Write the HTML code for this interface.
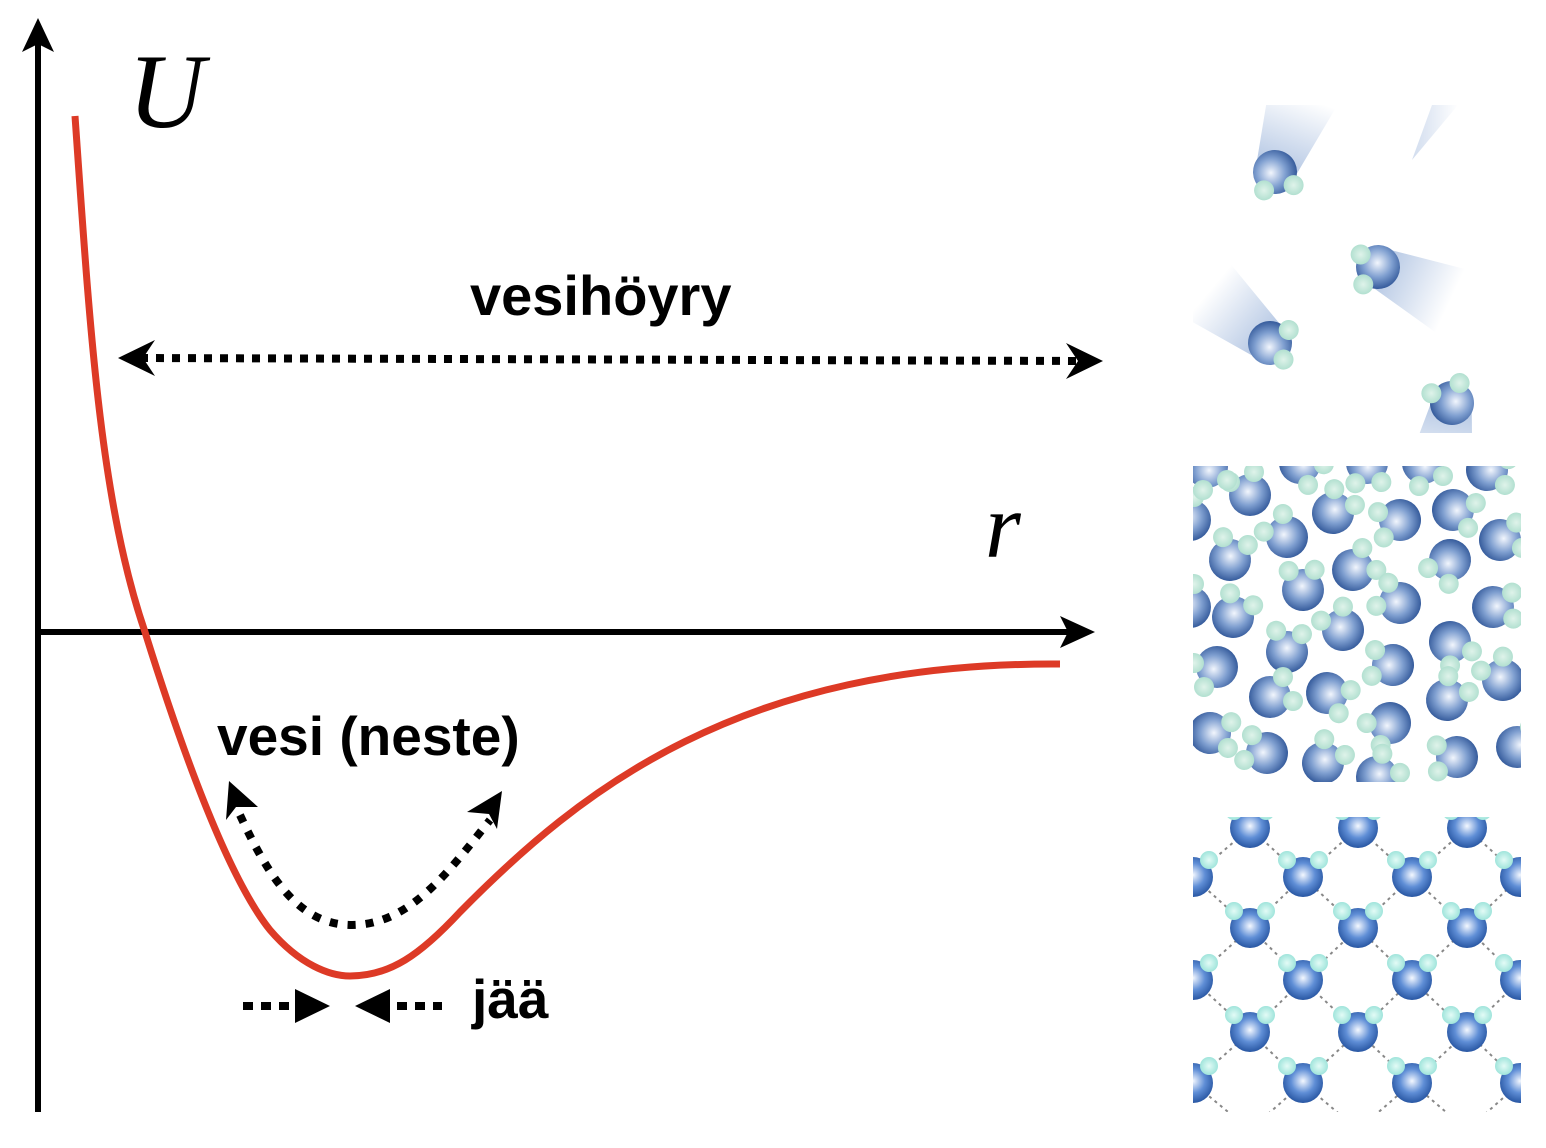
<!DOCTYPE html>
<html><head><meta charset="utf-8"><style>
html,body{margin:0;padding:0;background:#fff}
svg{display:block}
text{font-family:"Liberation Sans",sans-serif;font-weight:bold;fill:#000}
</style></head><body>
<svg width="1546" height="1148" viewBox="0 0 1546 1148" xmlns="http://www.w3.org/2000/svg">
<defs>
<radialGradient id="o" cx="0.45" cy="0.42" r="0.6">
<stop offset="0" stop-color="#f2f6fd"/><stop offset="0.55" stop-color="#7f9fd0"/><stop offset="1" stop-color="#33599a"/></radialGradient>
<radialGradient id="ob" cx="0.5" cy="0.45" r="0.6">
<stop offset="0" stop-color="#f4f8ff"/><stop offset="0.5" stop-color="#5f8ed6"/><stop offset="1" stop-color="#1d4b98"/></radialGradient>
<radialGradient id="h" cx="0.5" cy="0.5" r="0.6">
<stop offset="0" stop-color="#dff3ea"/><stop offset="1" stop-color="#a9dccb"/></radialGradient>
<radialGradient id="hi" cx="0.5" cy="0.5" r="0.6">
<stop offset="0" stop-color="#e3fbf6"/><stop offset="1" stop-color="#92e0d6"/></radialGradient>
<linearGradient id="tr" x1="0" y1="0" x2="1" y2="0"><stop offset="0" stop-color="#7f9fd0" stop-opacity="0.6"/><stop offset="1" stop-color="#7f9fd0" stop-opacity="0"/></linearGradient>
<g id="m"><circle r="21" fill="url(#o)"/><circle cx="-20" cy="-13" r="10" fill="url(#h)"/><circle cx="4" cy="-23" r="10" fill="url(#h)"/></g>
<g id="mv"><path d="M0,-20 L80,-35 L80,35 L0,20Z" fill="url(#tr)"/><circle r="22" fill="url(#o)"/><circle cx="-21" cy="-4" r="10" fill="url(#h)"/><circle cx="-6" cy="22" r="10" fill="url(#h)"/></g>
<g id="ic"><circle r="20" fill="url(#ob)"/><circle cx="-16" cy="-17" r="9" fill="url(#hi)"/><circle cx="16" cy="-17" r="9" fill="url(#hi)"/></g>
<clipPath id="c1"><rect x="1193" y="105" width="317" height="328"/></clipPath>
<clipPath id="c2"><rect x="1193" y="466" width="328" height="316"/></clipPath>
<clipPath id="c3"><rect x="1193" y="817" width="328" height="295"/></clipPath>
</defs>

<line x1="38" y1="1112" x2="38" y2="40" stroke="#000" stroke-width="6"/>
<polygon points="38,18 22,52 38,44 54,52" fill="#000"/>
<line x1="38" y1="632" x2="1075" y2="632" stroke="#000" stroke-width="6"/>
<polygon points="1095,632 1060,616 1068,632 1060,648" fill="#000"/>

<text x="128" y="127" font-style="italic" font-size="106" style="font-family:'Liberation Serif',serif;font-weight:normal">U</text>
<text x="985" y="557" font-style="italic" font-size="92" style="font-family:'Liberation Serif',serif;font-weight:normal">r</text>

<path d="M75,116 C90,330 100,500 145,632 C185,760 230,880 270,930 C300,965 330,976 350,976 C390,976 420,955 460,912 C580,790 740,662 1060,664" fill="none" stroke="#dd3a26" stroke-width="7"/>

<text x="470" y="315" font-size="56">vesihöyry</text>
<line x1="140" y1="358" x2="1080" y2="361" stroke="#000" stroke-width="8" stroke-dasharray="8,8"/>
<polygon points="118,358 155,340 143,358 155,376" fill="#000"/>
<polygon points="1103,361 1066,343 1078,361 1066,379" fill="#000"/>

<text x="217" y="755" font-size="55">vesi (neste)</text>
<path d="M240,815 C270,880 300,925 352,925 C410,925 450,870 490,820" fill="none" stroke="#000" stroke-width="8" stroke-dasharray="8,10"/>
<polygon points="229,781 226,820 236,807 258,807" fill="#000"/>
<polygon points="502,791 497,829 489,814 467,812" fill="#000"/>

<line x1="243" y1="1006" x2="290" y2="1006" stroke="#000" stroke-width="8" stroke-dasharray="10,8"/>
<polygon points="295,989 330,1006 295,1023" fill="#000"/>
<polygon points="390,989 355,1006 390,1023" fill="#000"/>
<line x1="397" y1="1006" x2="442" y2="1006" stroke="#000" stroke-width="8" stroke-dasharray="10,8"/>
<text x="472" y="1018" font-size="55">jää</text>

<g clip-path="url(#c1)">
<use href="#mv" transform="translate(1275,172) rotate(-70)"/>
<use href="#mv" transform="translate(1378,267) rotate(25)"/>
<use href="#mv" transform="translate(1270,343) rotate(-140)"/>
<use href="#mv" transform="translate(1452,403) rotate(100)"/>
<path d="M1412,160 L1432,105 L1458,105Z" fill="url(#tr)" opacity="0.6"/>
</g>

<g clip-path="url(#c2)">
<use href="#m" transform="translate(1250,495) rotate(0)"/>
<use href="#m" transform="translate(1333,513) rotate(60)"/>
<use href="#m" transform="translate(1400,520) rotate(-80)"/>
<use href="#m" transform="translate(1453,510) rotate(130)"/>
<use href="#m" transform="translate(1500,540) rotate(100)"/>
<use href="#m" transform="translate(1287,537) rotate(-20)"/>
<use href="#m" transform="translate(1230,560) rotate(40)"/>
<use href="#m" transform="translate(1353,570) rotate(80)"/>
<use href="#m" transform="translate(1450,560) rotate(-120)"/>
<use href="#m" transform="translate(1303,590) rotate(20)"/>
<use href="#m" transform="translate(1400,603) rotate(-40)"/>
<use href="#m" transform="translate(1493,607) rotate(110)"/>
<use href="#m" transform="translate(1233,617) rotate(50)"/>
<use href="#m" transform="translate(1343,630) rotate(-10)"/>
<use href="#m" transform="translate(1287,652) rotate(30)"/>
<use href="#m" transform="translate(1393,665) rotate(-60)"/>
<use href="#m" transform="translate(1450,642) rotate(170)"/>
<use href="#m" transform="translate(1217,667) rotate(-90)"/>
<use href="#m" transform="translate(1503,680) rotate(-10)"/>
<use href="#m" transform="translate(1270,697) rotate(90)"/>
<use href="#m" transform="translate(1327,693) rotate(140)"/>
<use href="#m" transform="translate(1447,700) rotate(60)"/>
<use href="#m" transform="translate(1390,723) rotate(-100)"/>
<use href="#m" transform="translate(1210,733) rotate(120)"/>
<use href="#m" transform="translate(1267,753) rotate(-50)"/>
<use href="#m" transform="translate(1323,763) rotate(60)"/>
<use href="#m" transform="translate(1457,757) rotate(-70)"/>
<use href="#m" transform="translate(1190,607) rotate(0)"/>
<use href="#m" transform="translate(1190,520) rotate(0)"/>
<use href="#m" transform="translate(1377,777) rotate(70)"/>
<use href="#m" transform="translate(1207,467) rotate(180)"/>
<use href="#m" transform="translate(1300,463) rotate(150)"/>
<use href="#m" transform="translate(1367,463) rotate(200)"/>
<use href="#m" transform="translate(1423,463) rotate(180)"/>
<use href="#m" transform="translate(1487,470) rotate(120)"/>
<use href="#m" transform="translate(1517,747) rotate(90)"/>
</g>

<g clip-path="url(#c3)">
<g stroke="#888" stroke-width="2" stroke-dasharray="3,4" fill="none">
<path d="M1193,877 L1250,828 L1303,877 L1358,828 L1412,877 L1467,828 L1520,877"/>
<path d="M1193,877 L1250,928 L1303,877 L1358,928 L1412,877 L1467,928 L1520,877"/>
<path d="M1193,980 L1250,928 L1303,980 L1358,928 L1412,980 L1467,928 L1520,980"/>
<path d="M1193,980 L1250,1032 L1303,980 L1358,1032 L1412,980 L1467,1032 L1520,980"/>
<path d="M1193,1083 L1250,1032 L1303,1083 L1358,1032 L1412,1083 L1467,1032 L1520,1083"/>
<path d="M1193,1083 L1250,1130 L1303,1083 L1358,1130 L1412,1083 L1467,1130 L1520,1083"/>
</g>
<use href="#ic" transform="translate(1250,828)"/><use href="#ic" transform="translate(1358,828)"/><use href="#ic" transform="translate(1467,828)"/>
<use href="#ic" transform="translate(1193,877)"/><use href="#ic" transform="translate(1303,877)"/><use href="#ic" transform="translate(1412,877)"/><use href="#ic" transform="translate(1520,877)"/>
<use href="#ic" transform="translate(1250,928)"/><use href="#ic" transform="translate(1358,928)"/><use href="#ic" transform="translate(1467,928)"/>
<use href="#ic" transform="translate(1193,980)"/><use href="#ic" transform="translate(1303,980)"/><use href="#ic" transform="translate(1412,980)"/><use href="#ic" transform="translate(1520,980)"/>
<use href="#ic" transform="translate(1250,1032)"/><use href="#ic" transform="translate(1358,1032)"/><use href="#ic" transform="translate(1467,1032)"/>
<use href="#ic" transform="translate(1193,1083)"/><use href="#ic" transform="translate(1303,1083)"/><use href="#ic" transform="translate(1412,1083)"/><use href="#ic" transform="translate(1520,1083)"/>
</g>
</svg>
</body></html>
